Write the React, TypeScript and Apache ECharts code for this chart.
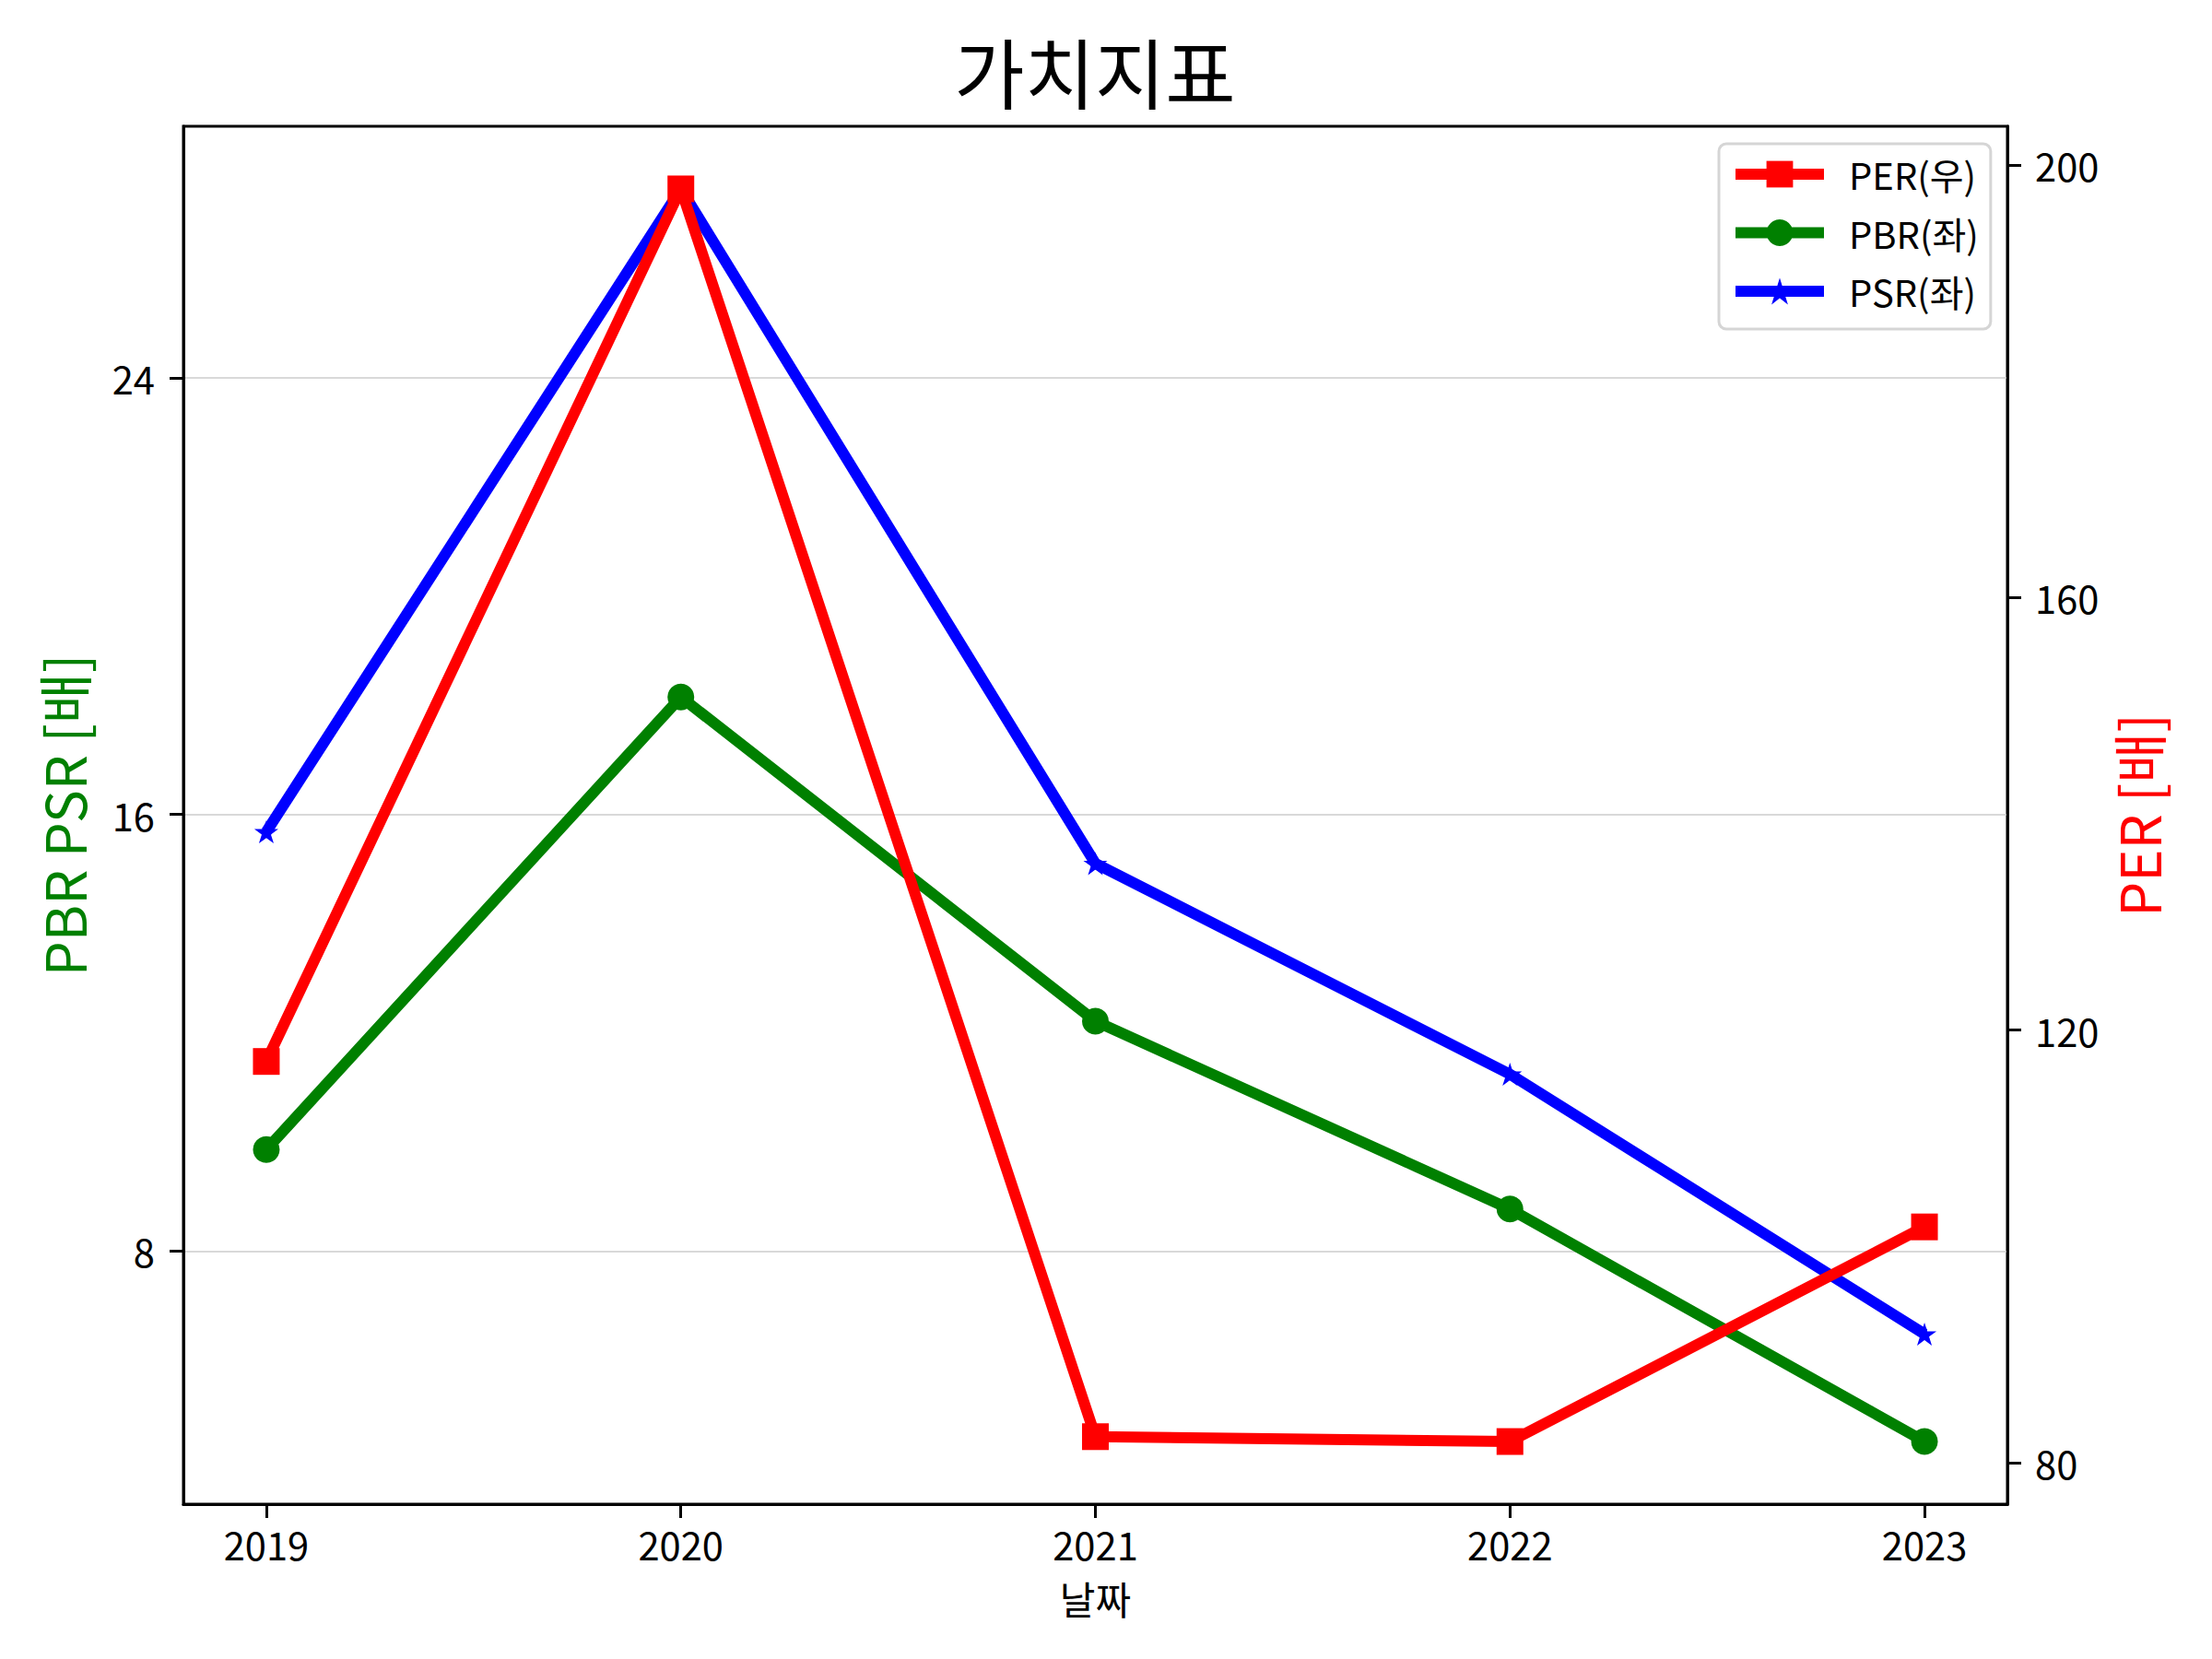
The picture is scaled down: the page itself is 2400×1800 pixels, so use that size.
import React, { useEffect, useRef } from "react";
import * as echarts from "echarts";

const years = [2019, 2020, 2021, 2022, 2023];
const perValues = [117.1, 197.8, 82.4, 81.95, 101.8];
const pbrValues = [9.86, 18.15, 12.21, 8.77, 4.51];
const psrValues = [15.68, 27.46, 15.1, 11.24, 6.48];
const leftTicks = [8, 16, 24];
const rightTicks = [80, 120, 160, 200];
const titleText = "가치지표";
const xName = "날짜";
const leftName = "PBR PSR [배]";
const rightName = "PER [배]";
const seriesNames = ["PER(우)", "PBR(좌)", "PSR(좌)"];

const FONT = "'Noto Sans CJK KR', 'Noto Sans', sans-serif";
const STAR =
  "path://M100,0 L77.55,69.1 L4.89,69.1 L63.67,111.8 L41.22,180.9 L100,138.2 L158.78,180.9 L136.33,111.8 L195.11,69.1 L122.45,69.1 Z";

function padRange(vals: number[], frac = 0.05): [number, number] {
  const mn = Math.min(...vals);
  const mx = Math.max(...vals);
  const r = mx - mn;
  return [mn - r * frac, mx + r * frac];
}

export default function App() {
  const ref = useRef<HTMLDivElement>(null);
  useEffect(() => {
    document.body.style.margin = "0";
    if (!ref.current) return;
    const chart = echarts.init(ref.current, undefined, { renderer: "svg" });
    const xr = padRange(years);
    const lr = padRange([...pbrValues, ...psrValues]);
    const rr = padRange(perValues);
    const tickStyle = { width: 3, color: "#000" };
    const labelStyle = { fontSize: 41.7, color: "#000", fontFamily: FONT };
    chart.setOption({
      animation: false,
      backgroundColor: "#ffffff",
      title: {
        text: titleText,
        left: 1188,
        top: 34,
        padding: 0,
        textAlign: "center",
        textStyle: { fontSize: 83, fontWeight: "normal", color: "#000", fontFamily: FONT },
      },
      grid: {
        left: 199,
        top: 137,
        width: 1979,
        height: 1495,
        show: true,
        borderColor: "#000",
        borderWidth: 3,
        backgroundColor: "transparent",
      },
      legend: {
        data: seriesNames,
        orient: "vertical",
        left: 1865,
        top: 156,
        itemWidth: 96,
        itemHeight: 36,
        itemGap: 23.5,
        padding: [13, 13, 21, 12],
        borderColor: "#d5d5d5",
        borderWidth: 3,
        borderRadius: 8,
        backgroundColor: "rgba(255,255,255,0.8)",
        lineStyle: { width: 12 },
        textStyle: { fontSize: 40, color: "#000", fontFamily: FONT, padding: [0, 0, 0, 22] },
      },
      xAxis: {
        type: "value",
        min: xr[0],
        max: xr[1],
        name: xName,
        nameLocation: "middle",
        nameGap: 80,
        nameTextStyle: { fontSize: 42, color: "#000", fontFamily: FONT },
        axisLine: { show: true, lineStyle: tickStyle },
        axisTick: { show: true, length: 15, lineStyle: tickStyle, customValues: years },
        axisLabel: {
          ...labelStyle,
          margin: 22,
          customValues: years,
          formatter: (v: number) => String(v),
        },
        splitLine: { show: false },
      },
      yAxis: [
        {
          type: "value",
          position: "left",
          min: lr[0],
          max: lr[1],
          name: leftName,
          nameLocation: "middle",
          nameRotate: 90,
          nameGap: 102,
          nameTextStyle: { fontSize: 60, color: "#008000", fontFamily: FONT },
          axisLine: { show: true, lineStyle: tickStyle },
          axisTick: { show: true, length: 15, lineStyle: tickStyle, customValues: leftTicks },
          axisLabel: { ...labelStyle, margin: 31, customValues: leftTicks, formatter: (v: number) => String(v) },
          splitLine: { show: true, lineStyle: { color: "#cccccc", width: 1.5 } },
        },
        {
          type: "value",
          position: "right",
          min: rr[0],
          max: rr[1],
          name: rightName,
          nameLocation: "middle",
          nameRotate: 90,
          nameGap: 109,
          nameTextStyle: { fontSize: 60, color: "#ff0000", fontFamily: FONT },
          axisLine: { show: true, lineStyle: tickStyle },
          axisTick: { show: true, length: 15, lineStyle: tickStyle, customValues: rightTicks },
          axisLabel: { ...labelStyle, margin: 30, customValues: rightTicks, formatter: (v: number) => String(v) },
          splitLine: { show: false },
        },
      ],
      series: [
        {
          type: "line",
          name: seriesNames[1],
          yAxisIndex: 0,
          data: years.map((y, i) => [y, pbrValues[i]]),
          symbol: "circle",
          symbolSize: 29,
          lineStyle: { width: 12, color: "#008000" },
          itemStyle: { color: "#008000", borderWidth: 0 },
          z: 2,
        },
        {
          type: "line",
          name: seriesNames[2],
          yAxisIndex: 0,
          data: years.map((y, i) => [y, psrValues[i]]),
          symbol: STAR,
          symbolSize: [26, 25],
          lineStyle: { width: 12, color: "#0000ff" },
          itemStyle: { color: "#0000ff", borderWidth: 0 },
          z: 3,
        },
        {
          type: "line",
          name: seriesNames[0],
          yAxisIndex: 1,
          data: years.map((y, i) => [y, perValues[i]]),
          symbol: "rect",
          symbolSize: 29,
          lineStyle: { width: 12, color: "#ff0000" },
          itemStyle: { color: "#ff0000", borderWidth: 0 },
          z: 4,
        },
      ],
    });
    return () => chart.dispose();
  }, []);
  return <div ref={ref} style={{ width: 2400, height: 1800 }} />;
}
